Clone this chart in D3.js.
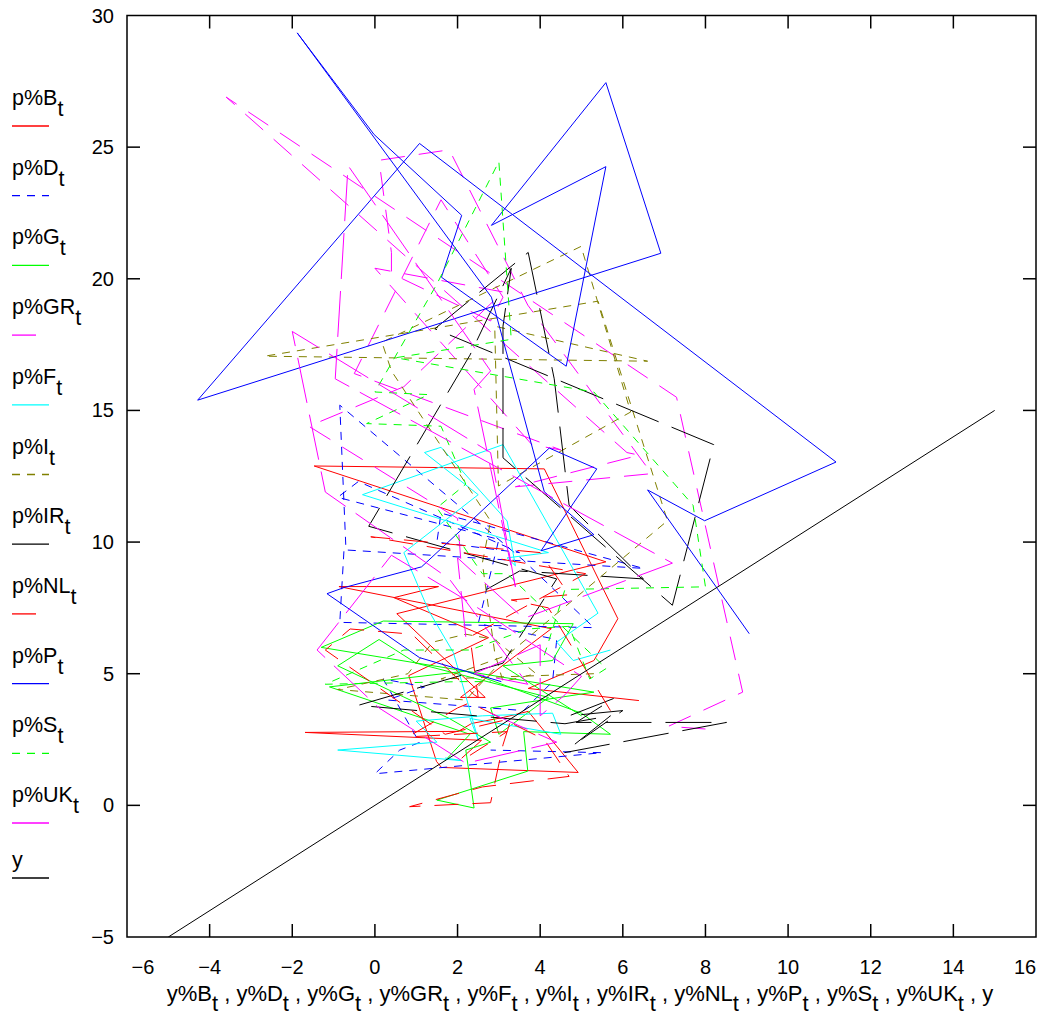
<!DOCTYPE html>
<html><head><meta charset="utf-8">
<script src="https://cdn.jsdelivr.net/npm/d3@7"></script>
<style>body{margin:0;background:#fff}svg{display:block}text{font-family:"Liberation Sans",Arial,Helvetica,sans-serif}</style>
</head><body>
<svg id="c" width="1048" height="1021"></svg>
<script>
const years = [1970,1971,1972,1973,1974,1975,1976,1977,1978,1979,1980,1981,1982,1983,1984,1985,1986,1987,1988,1989,1990,1991,1992,1993,1994,1995];
const seriesKeys = ["B","D","G","GR","F","I","IR","NL","P","S","UK"];
const xTicks = [-6,-4,-2,0,2,4,6,8,10,12,14,16];
const yTicks = [-5,0,5,10,15,20,25,30];

const B_growth = [6.39,3.71,5.30,5.88,4.10,-1.47,5.59,0.53,2.67,2.07,4.27,-0.87,1.54,0.46,2.75,0.82,1.49,1.61,4.92,3.71,3.11,2.34,2.02,-1.69,2.58,2.10];
const B_infl   = [3.98,4.44,5.50,7.09,12.78,12.89,9.25,7.28,4.10,4.10,6.71,8.31,8.31,7.89,6.37,4.93,1.67,1.44,1.25,3.57,3.34,3.11,2.81,2.77,2.47,1.79];
const D_growth = [-0.75,-0.85,5.3,3.6,-0.85,-0.7,6.5,1.6,1.5,3.5,-0.4,-0.9,3.0,2.5,4.4,4.3,3.6,0.3,1.2,0.2,1.0,1.1,0.6,0.0,5.5,2.8];
const D_infl   = [9.65,6.95,6.75,9.3,15.2,9.7,9.0,11.1,10.0,9.6,12.3,11.7,10.1,6.9,6.3,4.7,3.6,4.0,4.5,4.8,2.6,2.4,2.1,1.2,2.0,2.1];
const G_growth = [5.0,3.1,4.3,4.8,0.2,-1.3,5.3,2.8,3.0,4.2,1.0,0.1,-0.9,1.8,2.8,2.2,2.4,1.5,3.7,3.6,5.7,5.0,2.2,-1.1,2.3,1.7];
const G_infl   = [3.4,5.3,5.5,6.9,7.0,6.0,4.3,3.7,2.7,4.1,5.4,6.3,5.3,3.3,2.4,2.1,-0.1,0.2,1.3,2.8,2.7,3.5,5.1,4.5,2.7,1.7];
const GR_growth = [8.0,7.1,8.9,7.3,-3.6,6.1,6.4,3.4,6.7,3.7,1.8,0.1,0.4,0.4,2.8,3.1,1.6,-0.5,4.5,3.8,0.0,3.1,0.7,-1.6,2.0,2.1];
const GR_infl   = [2.9,3.0,4.3,15.5,26.9,13.4,13.3,12.1,12.6,19.0,24.9,24.5,21.0,20.2,18.4,19.3,23.0,16.4,13.5,13.7,20.4,19.5,15.9,14.4,10.9,8.9];
const F_growth = [5.7,4.8,4.4,5.4,3.1,-0.3,4.2,3.2,3.4,3.2,1.6,1.2,2.5,0.7,1.3,1.9,2.5,2.3,4.5,4.3,2.6,1.0,1.5,-0.9,2.1,1.7];
const F_infl   = [5.9,5.5,6.2,7.3,13.7,11.8,9.6,9.4,9.1,10.8,13.6,13.4,11.8,9.6,7.4,5.8,2.5,3.3,2.7,3.5,3.4,3.2,2.4,2.1,1.7,1.8];
const I_growth = [5.3,1.6,3.2,7.08,5.40,-2.67,6.60,2.9,2.99,6.19,4.99,0.17,0.4,1.2,2.8,2.6,2.9,3.1,3.9,2.9,2.2,1.4,0.8,-0.9,2.2,2.9];
const I_infl   = [5.0,4.8,5.7,10.81,19.15,17.06,16.87,18.2,12.13,14.94,21.23,17.59,16.5,14.6,10.8,9.2,5.8,4.7,5.0,6.3,6.5,6.2,5.0,4.4,4.0,5.2];
const IR_growth = [2.7,3.5,6.5,4.7,4.34,3.71,1.45,8.2,7.2,3.1,3.1,3.3,2.3,-0.15,4.4,3.1,-0.4,4.6,5.7,4.58,8.51,4.87,5.78,4.7,6.0,5.0];
const IR_infl   = [8.2,8.9,8.6,11.4,16.2,21.0,18.1,13.7,7.6,13.2,18.2,20.4,17.1,10.6,8.6,5.4,3.8,3.1,3.4,2.0,3.15,3.15,4.06,3.4,3.6,2.5];
const NL_growth = [5.7,4.2,3.3,4.7,4.0,-0.1,5.1,2.3,2.5,2.4,0.9,-0.6,-1.2,1.7,3.3,3.1,2.8,0.84,2.6,4.7,4.1,2.3,2.0,0.8,3.2,2.3];
const NL_infl   = [3.6,7.5,7.8,8.0,9.6,10.2,8.8,6.4,4.1,4.2,6.5,6.7,5.9,2.7,3.3,2.3,0.1,-0.05,0.7,1.1,2.5,3.9,3.7,2.6,2.8,1.9];
const P_growth = [9.06,6.60,7.98,11.16,1.08,-4.29,6.92,5.59,2.82,5.59,4.63,1.61,2.10,-0.02,-1.88,2.82,4.10,5.30,4.02,5.37,4.22,1.13,-0.75,-1.16,1.08,3.06];
const P_infl   = [6.52,11.98,10.81,13.04,25.14,15.39,20.97,27.45,22.03,24.26,16.68,20.06,22.41,25.48,29.34,19.30,11.91,10.28,9.67,12.78,13.57,9.06,8.27,8.04,5.61,4.70];
const S_growth = [4.1,4.6,8.0,7.7,5.3,0.5,3.3,3.0,1.5,0.0,1.3,-0.2,1.6,2.2,1.5,2.6,3.2,5.6,5.2,4.7,3.7,2.3,0.7,-1.2,2.1,2.8];
const S_infl   = [5.7,8.2,8.3,11.4,15.7,17.0,17.7,24.45,19.8,15.7,15.6,14.5,14.4,12.2,11.3,8.8,8.8,5.2,4.8,6.8,6.7,5.9,5.9,4.6,4.7,4.7];
const UK_growth = [2.2,2.0,3.6,7.2,-0.96,-0.65,2.8,2.4,3.4,2.8,-2.0,-1.2,1.8,3.7,2.4,4.0,4.0,4.6,5.0,2.2,0.4,-1.4,0.1,2.2,4.4,2.8];
const UK_infl   = [6.4,9.4,7.1,9.2,16.2,24.3,16.5,15.8,8.3,13.4,18.0,11.9,8.6,4.6,5.0,6.1,3.4,4.2,4.9,7.8,9.5,5.9,3.7,1.6,2.4,3.5];
const Y_x = [-5, 15];
const Y_y = [-5, 15];

const svg = d3.select("#c");
const L = 127, R = 1036, T = 15.5, Bt = 937;
const x = d3.scaleLinear().domain([-6,16]).range([L,R]);
const y = d3.scaleLinear().domain([-5,30]).range([Bt,T]);

const data = {
  B:[B_growth,B_infl], D:[D_growth,D_infl], G:[G_growth,G_infl], GR:[GR_growth,GR_infl],
  F:[F_growth,F_infl], I:[I_growth,I_infl], IR:[IR_growth,IR_infl], NL:[NL_growth,NL_infl],
  P:[P_growth,P_infl], S:[S_growth,S_infl], UK:[UK_growth,UK_infl]
};
const style = {
  B:{c:"#ff0000",d:null}, D:{c:"#0000ff",d:"8,7"}, G:{c:"#00ff00",d:null}, GR:{c:"#ff00ff",d:"24,14"},
  F:{c:"#00ffff",d:null}, I:{c:"#808000",d:"8,7"}, IR:{c:"#000000",d:"46,14"}, NL:{c:"#ff0000",d:"24,14"},
  P:{c:"#0000ff",d:null}, S:{c:"#00ff00",d:"8,7"}, UK:{c:"#ff00ff",d:"46,12"}, y:{c:"#000000",d:null}
};

const line = d3.line().x(d=>x(d[0])).y(d=>y(d[1]));
svg.append("defs").append("clipPath").attr("id","clip").append("rect")
  .attr("x",L).attr("y",T).attr("width",R-L).attr("height",Bt-T);
const g = svg.append("g").attr("clip-path","url(#clip)");

seriesKeys.forEach(k=>{
  const pts = years.map((yr,i)=>[data[k][0][i], data[k][1][i]]);
  g.append("path").attr("d",line(pts)).attr("fill","none")
    .attr("stroke",style[k].c).attr("stroke-width",1)
    .attr("stroke-dasharray",style[k].d);
});
g.append("path").attr("d",line(Y_x.map((v,i)=>[v,Y_y[i]]))).attr("fill","none")
  .attr("stroke","#000").attr("stroke-width",1);

// frame
svg.append("rect").attr("x",L).attr("y",T).attr("width",R-L).attr("height",Bt-T)
  .attr("fill","none").attr("stroke","#000").attr("stroke-width",1.5);

const tl = 13;
const ax = svg.append("g").attr("stroke","#000").attr("stroke-width",1.5);
xTicks.forEach(t=>{
  if (t===-6 || t===16) return;
  ax.append("line").attr("x1",x(t)).attr("x2",x(t)).attr("y1",Bt).attr("y2",Bt-tl);
  ax.append("line").attr("x1",x(t)).attr("x2",x(t)).attr("y1",T).attr("y2",T+tl);
});
yTicks.forEach(t=>{
  if (t===-5 || t===30) return;
  ax.append("line").attr("x1",L).attr("x2",L+tl).attr("y1",y(t)).attr("y2",y(t));
  ax.append("line").attr("x1",R).attr("x2",R-tl).attr("y1",y(t)).attr("y2",y(t));
});
const fs = 20, fsT = 22, fsL = 21.5;
const fmt = v => v<0 ? "\u2212"+Math.abs(v) : String(v);
xTicks.forEach(t=>{
  let px = x(t);
  if (t===-6) px += 16;
  if (t===16) px -= 11;
  svg.append("text").attr("x",px).attr("y",974).attr("text-anchor","middle")
    .attr("font-size",fs).text(fmt(t));
});
yTicks.forEach(t=>{
  svg.append("text").attr("x",114).attr("y",y(t)+7).attr("text-anchor","end")
    .attr("font-size",fs).text(fmt(t));
});

// x title
const xt = svg.append("text").attr("x",580).attr("y",1001).attr("text-anchor","middle").attr("font-size",fsT);
seriesKeys.forEach((k,i)=>{
  xt.append("tspan").attr("dy", i===0?0:-10).text((i===0?"":" , ")+"y%"+k);
  xt.append("tspan").attr("dy",10).text("t");
});
xt.append("tspan").attr("dy",-10).text(" , y");

// legend
const legLineY = k => 126 + 69.7*k;
seriesKeys.forEach((k,i)=>{
  const ly = legLineY(i);
  const t = svg.append("text").attr("x",12).attr("y",ly-21).attr("font-size",fsL);
  t.append("tspan").text("p%"+k);
  t.append("tspan").attr("dy",11).text("t");
  svg.append("line").attr("x1",12).attr("x2",49).attr("y1",ly).attr("y2",ly)
    .attr("stroke",style[k].c).attr("stroke-width",1.3).attr("stroke-dasharray",style[k].d);
});
svg.append("text").attr("x",12).attr("y",867).attr("font-size",fsL).text("y");
svg.append("line").attr("x1",12).attr("x2",49).attr("y1",878).attr("y2",878).attr("stroke","#000").attr("stroke-width",1.3);
</script>
</body></html>
